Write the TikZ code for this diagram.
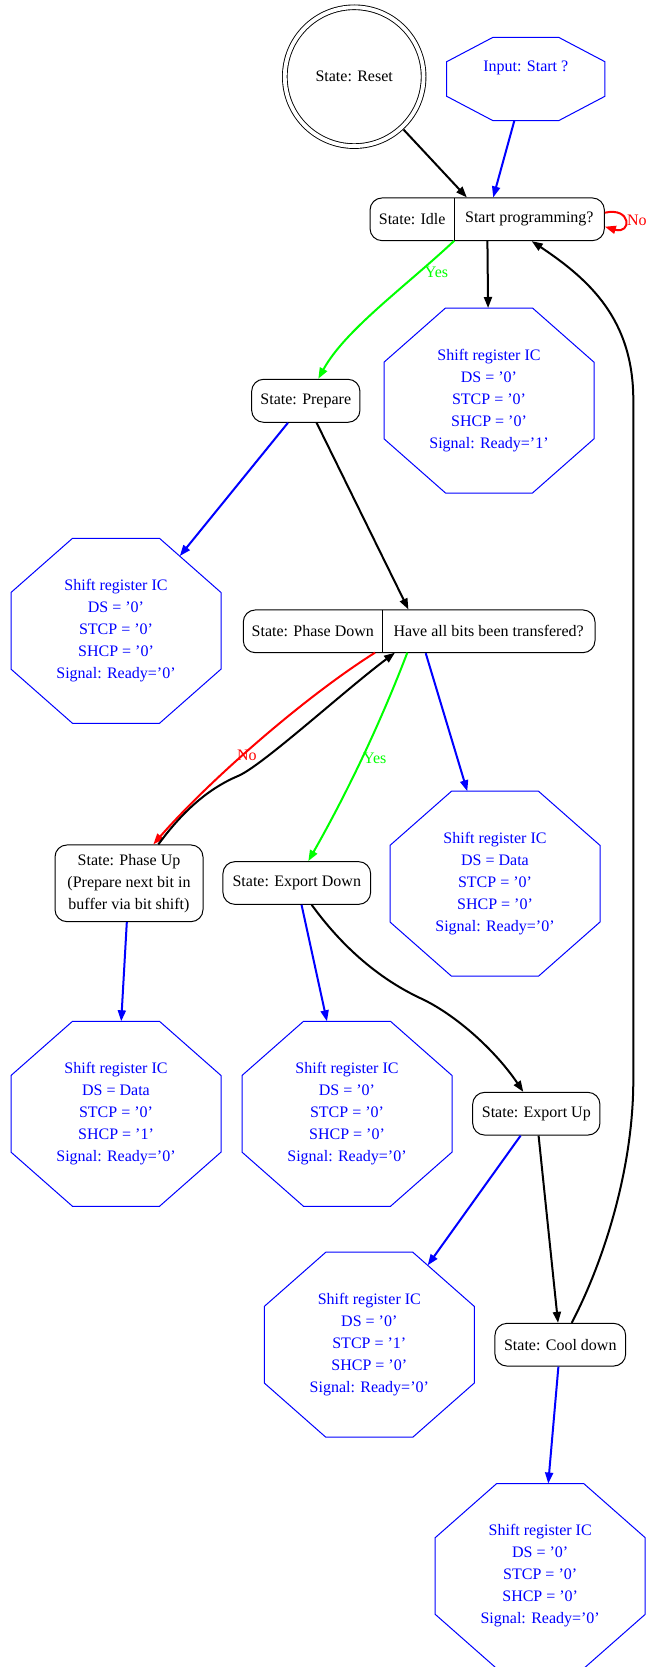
\documentclass[tikz,border=0pt]{standalone}
\usepackage{fontspec}
\setmainfont{Liberation Serif}
\usetikzlibrary{arrows.meta,positioning,fit,calc}

\definecolor{gvgreen}{RGB}{0,255,0}

\tikzset{
    state/.style={draw, line width=1pt, rounded corners=12pt, inner sep=0pt, align=center},
    cell/.style={inner sep=0pt, outer sep=0pt, minimum height=42.7pt},
    ic/.style={text=blue, align=center, inner sep=0pt, outer sep=0pt, minimum width=210pt, minimum height=185pt},
    flow/.style={line width=2pt, -{Triangle[length=11pt,width=8pt]}},
    outflow/.style={flow, blue},
    yesflow/.style={flow, gvgreen},
    noflow/.style={flow, red},
}

% octagon outline on the box of a node
\newcommand{\drawoct}[1]{%
    \draw[blue, line width=1pt]
        ($(#1.north west)!.2929!(#1.north east)$) -- ($(#1.north west)!.7071!(#1.north east)$)
        -- ($(#1.north east)!.2929!(#1.south east)$) -- ($(#1.north east)!.7071!(#1.south east)$)
        -- ($(#1.south west)!.7071!(#1.south east)$) -- ($(#1.south west)!.2929!(#1.south east)$)
        -- ($(#1.north west)!.7071!(#1.south west)$) -- ($(#1.north west)!.2929!(#1.south west)$) -- cycle;}

\begin{document}
\begin{tikzpicture}[x=1pt, y=-1pt, font=\fontsize{16}{22}\selectfont]
    \useasboundingbox (0,0) rectangle (647,1667);

    % Entry points
    \node[circle, draw, double, double distance=3.8pt, line width=0.9pt, minimum size=138.8pt, outer sep=2.9pt] (reset) at (354.2,76.7) {State: Reset};
    \node[ic, minimum width=158.3pt, minimum height=83.4pt] (start) at (525.8,79) {Input: Start ?\\[-3pt]\strut};
    \drawoct{start}

    % Idle record
    \node[cell, minimum width=84.3pt] (idlel) at (412.2,219.3) {State: Idle};
    \node[cell, minimum width=150pt, right=0pt of idlel] (idler) {Start programming?};
    \node[state, fit=(idlel)(idler)] (idle) {};
    \draw[line width=1pt] (idlel.north east) -- (idlel.south east);

    % Phase down record
    \node[cell, minimum width=139pt] (pdl) at (312.8,631.3) {State: Phase Down};
    \node[cell, minimum width=212.7pt, right=0pt of pdl] (pdr) {Have all bits been transfered?};
    \node[state, fit=(pdl)(pdr)] (phasedown) {};
    \draw[line width=1pt] (pdl.north east) -- (pdl.south east);

    % Plain states
    \node[state, minimum width=108.3pt, minimum height=43pt] (prepare) at (305.8,400.8) {State: Prepare};
    \node[state, minimum width=148pt, minimum height=76.7pt] (phaseup) at (129,883.3) {State: Phase Up\\(Prepare next bit in\\buffer via bit shift)};
    \node[state, minimum width=147.7pt, minimum height=42.7pt] (exportdown) at (296.8,883) {State: Export Down};
    \node[state, minimum width=127.3pt, minimum height=42.7pt] (exportup) at (536.3,1113.7) {State: Export Up};
    \node[state, minimum width=130.7pt, minimum height=42.7pt] (cooldown) at (560.3,1344.7) {State: Cool down};

    % Shift register outputs
    \foreach \n/\px/\py/\ds/\st/\sh/\rdy in {1/489/400.5/'0'/'0'/'0'/'1', 2/116/630.8/'0'/'0'/'0'/'0',
        3/495/883.7/Data/'0'/'0'/'0', 4/116/1113.8/Data/'0'/'1'/'0', 5/347/1113.8/'0'/'0'/'0'/'0',
        6/369.3/1344.7/'0'/'1'/'0'/'0', 7/540.2/1576/'0'/'0'/'0'/'0'} {
        \node[ic] (ic\n) at (\px,\py) {Shift register IC\\DS = \ds\\STCP = \st\\SHCP = \sh\\Signal: Ready=\rdy};
        \drawoct{ic\n}
    }

    % Transitions
    \draw[flow] (reset) -- (idle);
    \draw[outflow] (start) -- (idle);
    \draw[noflow] ([yshift=6.6pt]idle.east) .. controls +(27,-6) and +(27,8) .. ([yshift=-7.4pt]idle.east) node[pos=0.5, right, inner sep=1pt] (lblno1) {No};
    \draw[yesflow] (idlel.south east) .. controls (405,287) and (345,330) .. ([xshift=12.5pt]prepare.north) node[pos=0.2, right, inner sep=0pt, yshift=-4pt] (lblyes1) {Yes};
    \draw[flow] (idle) -- (ic1);

    \draw[outflow] (prepare) -- ([xshift=-41.2pt,yshift=-17.7pt]ic2.north east);
    \draw[flow] (prepare) -- (phasedown);

    \draw[noflow] ([xshift=-7.3pt]pdl.south east) .. controls (300,700) and (205,785) .. ([xshift=24.3pt]phaseup.north) node[pos=0.52, anchor=north east, inner sep=1pt, xshift=8pt] (lblno2) {No};
    \draw[flow] ([xshift=29.3pt]phaseup.north) .. controls (180,815) and (205,790) .. (238,776) .. controls (262,766) and (345,690) .. ([xshift=12.7pt]pdr.south west);
    \draw[yesflow] ([xshift=25pt]pdr.south west) .. controls (380,724) and (347,793) .. ([xshift=11.5pt]exportdown.north) node[pos=0.5, right, inner sep=0pt] (lblyes2) {Yes};
    \draw[outflow] (phasedown) -- (ic3);

    \draw[outflow] (phaseup) -- (ic4);
    \draw[outflow] (exportdown) -- (ic5);
    \draw[flow] ([xshift=14.9pt]exportdown.south) .. controls (330,930) and (365,972) .. (420,998) .. controls (455,1014) and (495,1050) .. ([xshift=-13pt]exportup.north);

    \draw[outflow] (exportup) -- ([xshift=-46.6pt,yshift=-13.1pt]ic6.north east);
    \draw[flow] (exportup) -- (cooldown);
    \draw[outflow] (cooldown) -- (ic7);

    % Back to idle
    \draw[flow] ([xshift=11.4pt]cooldown.north) .. controls (603,1263) and (633.3,1170) .. (633.3,1080) -- (633.3,400) .. controls (633.3,320) and (590,280) .. ([xshift=44.5pt]idle.south);
\end{tikzpicture}
\end{document}
